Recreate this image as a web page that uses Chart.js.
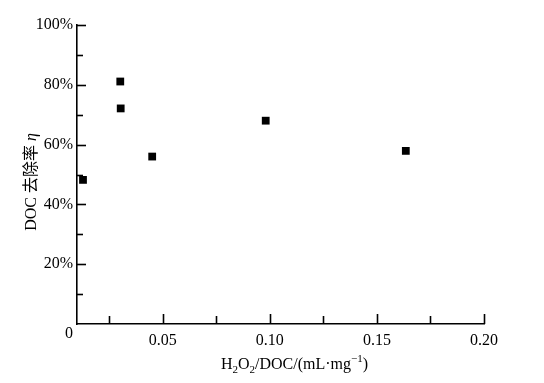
<!DOCTYPE html>
<html><head><meta charset="utf-8">
<script src="https://cdn.jsdelivr.net/npm/chart.js@4"></script>
<style>html,body{margin:0;padding:0;background:#fff}#wrap{width:544px;height:383px}</style>
</head><body><div id="wrap"><canvas id="c" width="544" height="383"></canvas></div>
<script>
// Data
const ratioX = [0.0128, 0.0302, 0.0304, 0.0451, 0.0981, 0.1635];
const removalY = [48.2, 81.1, 72.1, 56.0, 68.0, 57.9];
const xTickLabels = [0.05, 0.10, 0.15, 0.20];
const yTickLabels = [0, 20, 40, 60, 80, 100];
const xRange = [0.01, 0.20];
const yRange = [0, 100];
const xMinorStep = 0.025;
const yMinorStep = 10;

const FONT = '"Liberation Serif", "Times New Roman", serif';
const CJK = '"Liberation Serif", "Noto Sans CJK SC", serif';

const points = ratioX.map((x, i) => ({x: x, y: removalY[i]}));

const innerTicks = {
  id: 'innerTicks',
  afterDraw(chart) {
    const ctx = chart.ctx, xs = chart.scales.x, ys = chart.scales.y, a = chart.chartArea;
    ctx.save();
    ctx.strokeStyle = '#000';
    ctx.lineWidth = 1.6;
    for (let k = 1; k * yMinorStep <= yRange[1] + 1e-9; k++) {
      const v = k * yMinorStep;
      const py = Math.round(ys.getPixelForValue(v)) + 0.5;
      const len = (v % 20 === 0) ? 9 : 6;
      ctx.beginPath(); ctx.moveTo(a.left, py); ctx.lineTo(a.left + len, py); ctx.stroke();
    }
    for (let k = 1; k * xMinorStep <= xRange[1] + 1e-9; k++) {
      const v = k * xMinorStep;
      if (v < xRange[0]) continue;
      const px = Math.round(xs.getPixelForValue(v)) + 0.5;
      const len = (k % 2 === 0) ? 10 : 8;
      ctx.beginPath(); ctx.moveTo(px, a.bottom); ctx.lineTo(px, a.bottom - len); ctx.stroke();
    }
    // axis titles
    ctx.fillStyle = '#000';
    // x title with sub/superscripts
    const parts = [
      ['H', 16, 0], ['2', 11, 4], ['O', 16, 0], ['2', 11, 4],
      ['/DOC/(mL\u00B7mg', 16, 0], ['\u22121', 11, -7], [')', 16, 0]
    ];
    let total = 0;
    parts.forEach(p => { ctx.font = p[1] + 'px ' + FONT; total += ctx.measureText(p[0]).width; });
    let cx = 294.5 - total / 2;
    const baseY = 369;
    ctx.textBaseline = 'alphabetic';
    ctx.textAlign = 'left';
    parts.forEach(p => {
      ctx.font = p[1] + 'px ' + FONT;
      ctx.fillText(p[0], cx, baseY + p[2]);
      cx += ctx.measureText(p[0]).width;
    });
    // y title rotated
    ctx.save();
    ctx.translate(36, 182);
    ctx.rotate(-Math.PI / 2);
    const t1 = 'DOC \u53BB\u9664\u7387 ', t2 = '\u03B7';
    ctx.font = '16px ' + CJK;
    const w1 = ctx.measureText(t1).width;
    ctx.font = 'italic 16px ' + FONT;
    const w2 = ctx.measureText(t2).width;
    let sx = -(w1 + w2) / 2;
    ctx.font = '16px ' + CJK;
    ctx.fillText(t1, sx, 0);
    ctx.font = 'italic 16px ' + FONT;
    ctx.fillText(t2, sx + w1, 0);
    ctx.restore();
    ctx.restore();
  }
};

new Chart(document.getElementById('c'), {
  type: 'scatter',
  data: {
    datasets: [{
      data: points,
      pointStyle: 'rect',
      pointRadius: 5.5,
      pointHoverRadius: 5.5,
      backgroundColor: '#000',
      borderWidth: 0,
      showLine: false,
      clip: false
    }]
  },
  options: {
    responsive: false,
    animation: false,
    events: [],
    layout: {padding: {left: 0, right: 60, top: 25, bottom: 0}},
    plugins: {legend: {display: false}, tooltip: {enabled: false}},
    scales: {
      x: {
        type: 'linear', min: xRange[0], max: xRange[1],
        afterBuildTicks: s => { s.ticks = xTickLabels.map(v => ({value: v})); },
        afterFit: s => { s.height = 59; },
        ticks: {
          color: '#000', font: {family: FONT, size: 16}, padding: 7, maxRotation: 0,
          callback: v => Number(v).toFixed(2)
        },
        grid: {display: true, drawOnChartArea: false, drawTicks: false},
        border: {display: true, color: '#000', width: 1.6}
      },
      y: {
        type: 'linear', min: yRange[0], max: yRange[1],
        afterBuildTicks: s => { s.ticks = yTickLabels.map(v => ({value: v})); },
        afterFit: s => { s.width = 77; },
        ticks: {
          color: '#000', font: {family: FONT, size: 16}, padding: 4,
          callback: v => v === 0 ? ['', '0'] : v + '%'
        },
        grid: {display: true, drawOnChartArea: false, drawTicks: false},
        border: {display: true, color: '#000', width: 1.6}
      }
    }
  },
  plugins: [innerTicks]
});
</script>
</body></html>
